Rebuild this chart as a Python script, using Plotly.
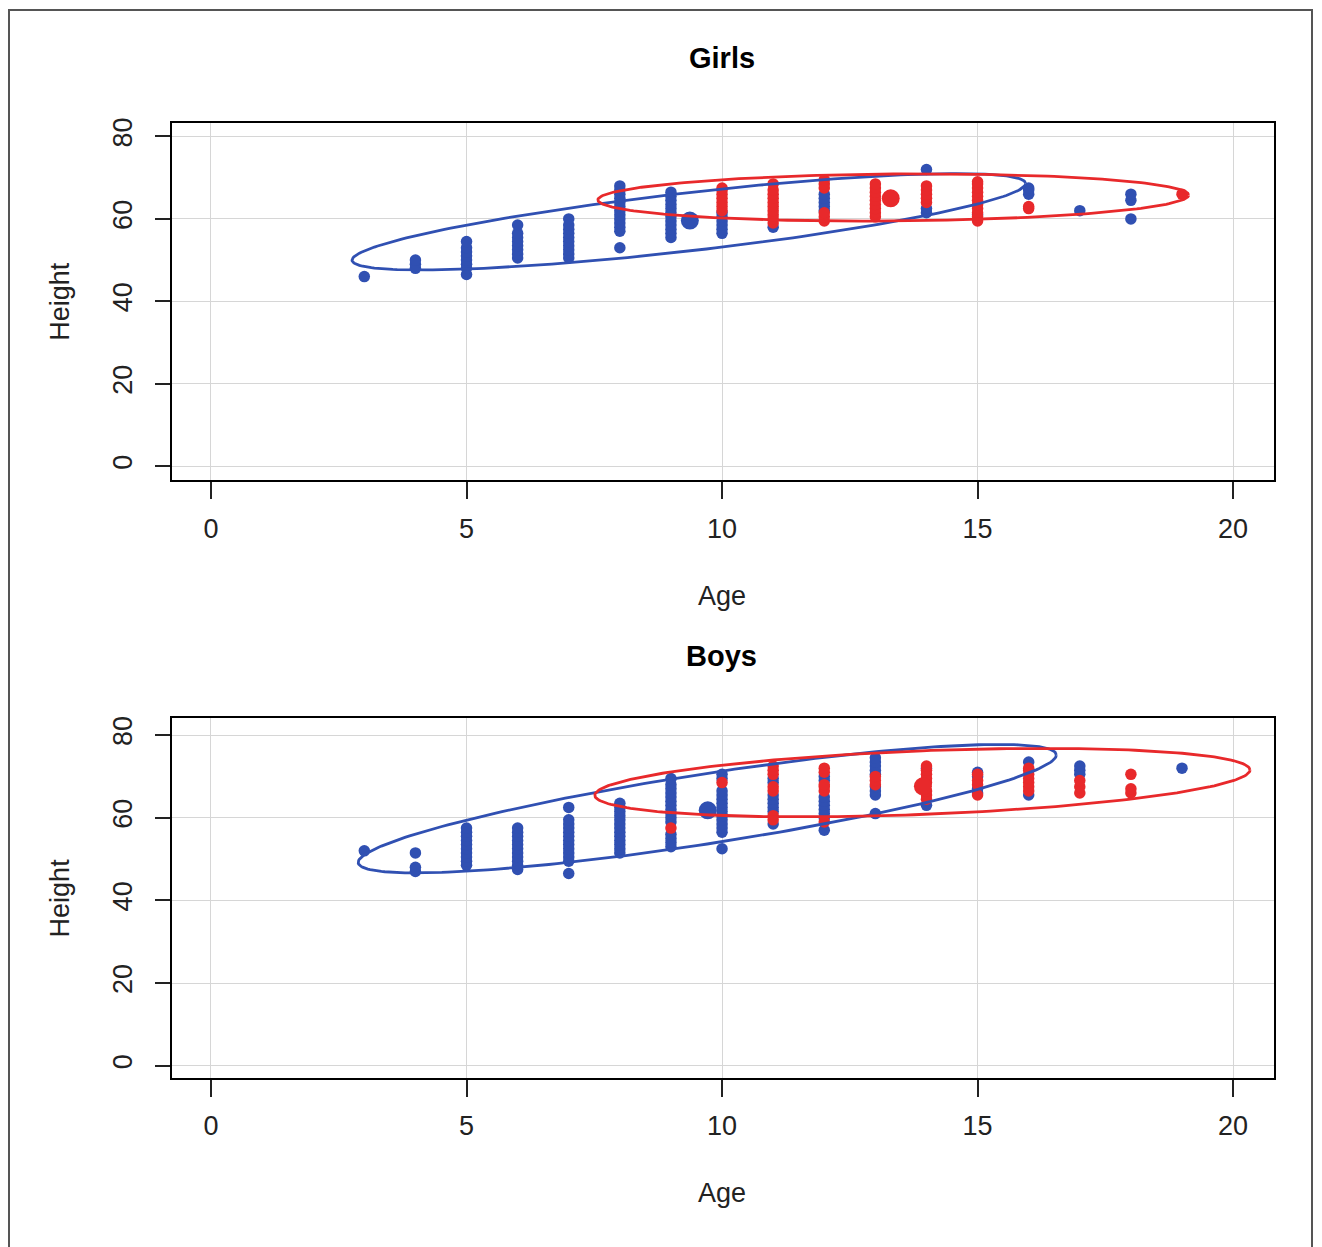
import numpy as np
import plotly.graph_objects as go

# ---------------- data ----------------
# heights per age column
girls_blue = {
    3: [46],
    4: [48, 49, 50],
    5: [46.5, 48, 49, 50, 51, 52, 53, 54.5],
    6: [50.5, 51.5, 52.5, 53.5, 54.5, 55.5, 56.5, 58.5],
    7: [50.5, 51.5, 52.5, 53.5, 54.5, 55.5, 56.5, 57.5, 58.5, 60],
    8: [53, 57, 58, 59, 60, 61, 62, 63, 64, 65, 66, 67, 68],
    9: [55.5, 56.5, 57.5, 58.5, 59.5, 60.5, 61.5, 62.5, 63.5, 64.5, 65.5, 66.5],
    10: [56.5, 57.5, 58.5, 59.5, 60.5, 61.5],
    11: [58],
    12: [62, 63, 64, 65, 66],
    14: [61.5, 62.5, 72],
    15: [61],
    16: [66, 67, 67.5],
    17: [62],
    18: [60, 64.5, 66],
}
girls_red = {
    10: [62, 63, 64, 65, 66, 67, 67.5],
    11: [59, 60, 61, 62, 63, 64, 65, 66, 67, 68.5],
    12: [59.5, 60.5, 61.5, 67.5, 68.5, 69.5],
    13: [60.5, 61.5, 62.5, 63.5, 64.5, 65.5, 66.5, 67.5, 68.5],
    14: [64, 65, 66, 67, 68],
    15: [59.5, 60.5, 61.5, 62.5, 63.5, 64.5, 65.5, 66.5, 67.5, 68.5, 69],
    16: [62.5, 63],
    19: [66],
}
boys_blue = {
    3: [52],
    4: [47, 48, 51.5],
    5: [48.5, 49.5, 50.5, 51.5, 52.5, 53.5, 54.5, 55.5, 56.5, 57.5],
    6: [47.5, 48.5, 49.5, 50.5, 51.5, 52.5, 53.5, 54.5, 55.5, 56.5, 57.5],
    7: [46.5, 49.5, 50.5, 51.5, 52.5, 53.5, 54.5, 55.5, 56.5, 57.5, 58.5, 59.5, 62.5],
    8: [51.5, 52.5, 53.5, 54.5, 55.5, 56.5, 57.5, 58.5, 59.5, 60.5, 61.5, 62.5, 63.5],
    9: [53, 54, 55, 56, 59, 60, 61, 62, 63, 64, 65, 66, 67, 68, 69.5],
    10: [52.5, 56.5, 57.5, 58.5, 59.5, 60.5, 61.5, 62.5, 63.5, 64.5, 65.5, 66.5, 69.5, 70.5],
    11: [58.5, 61.5, 62.5, 63.5, 64.5, 65.5, 68.5, 69.5],
    12: [57, 60, 61, 62, 63, 64, 65, 69, 70],
    13: [61, 65.5, 66.5, 67.5, 70.5, 71.5, 72.5, 73.5, 74.5],
    14: [63, 72],
    15: [66, 67, 70, 71],
    16: [65.5, 73.5],
    17: [70.5, 71.5, 72.5],
    19: [72],
}
boys_red = {
    9: [57.5],
    10: [68.5],
    11: [59.5, 60.5, 66.5, 67.5, 70.5, 71.5, 72.5],
    12: [59, 66.5, 67.5, 68, 71, 72],
    13: [68, 69, 70],
    14: [64.5, 65.5, 66.5, 68.5, 69.5, 70.5, 71.5, 72.5],
    15: [65.5, 68, 69, 70.5],
    16: [66.5, 67.5, 68.5, 69.5, 70.5, 71.5, 72],
    17: [66, 67.5, 69],
    18: [66, 67, 70.5],
}

# group means (large dots)
mean_age = {"girls_blue": 9.37, "girls_red": 13.3, "boys_blue": 9.72, "boys_red": 13.93}
mean_height = {"girls_blue": 59.6, "girls_red": 65.0, "boys_blue": 61.8, "boys_red": 67.6}

# ellipse parameters: centre, half-extent in x, slope of conjugate diameter, half-thickness at centre
ell_cx = {"girls_blue": 9.35, "girls_red": 13.35, "boys_blue": 9.71, "boys_red": 13.92}
ell_cy = {"girls_blue": 59.3, "girls_red": 65.2, "boys_blue": 62.2, "boys_red": 68.5}
ell_a = {"girls_blue": 6.59, "girls_red": 5.78, "boys_blue": 6.83, "boys_red": 6.41}
ell_b = {"girls_blue": 1.41, "girls_red": 0.10, "boys_blue": 1.90, "boys_red": 0.476}
ell_h = {"girls_blue": 7.1, "girls_red": 5.7, "boys_blue": 8.55, "boys_red": 7.7}

x_ticks = [0, 5, 10, 15, 20]
y_ticks = [0, 20, 40, 60, 80]
panel_titles = ["Girls", "Boys"]

BLUE = "#3050B2"
RED = "#E8292B"
OFFX, OFFY = 8, 12          # page offsets
W, H = 1322 - 2 * OFFX, 1247 - 8


def px(x):
    return (x - OFFX) / W


def py(y):
    return 1 - (y - OFFY) / H


def flatten(d):
    xs, ys = [], []
    for k, vals in d.items():
        for v in vals:
            xs.append(k)
            ys.append(v)
    return xs, ys


def ellipse(key):
    t = np.linspace(0, 2 * np.pi, 241)
    x = ell_cx[key] + ell_a[key] * np.cos(t)
    y = ell_cy[key] + ell_b[key] * ell_a[key] * np.cos(t) + ell_h[key] * np.sin(t)
    return x, y


fig = go.Figure()

panels = [
    ("girls", "x", "y", girls_blue, girls_red),
    ("boys", "x2", "y2", boys_blue, boys_red),
]
for name, xa, ya, blue_d, red_d in panels:
    for col, d in [(BLUE, blue_d), (RED, red_d)]:
        xs, ys = flatten(d)
        fig.add_trace(go.Scatter(x=xs, y=ys, mode="markers", xaxis=xa, yaxis=ya,
                                 marker=dict(color=col, size=11.5, line=dict(width=0)),
                                 showlegend=False, hoverinfo="skip"))
    for col, grp in [(BLUE, "blue"), (RED, "red")]:
        key = f"{name}_{grp}"
        fig.add_trace(go.Scatter(x=[mean_age[key]], y=[mean_height[key]], mode="markers",
                                 xaxis=xa, yaxis=ya,
                                 marker=dict(color=col, size=18, line=dict(width=0)),
                                 showlegend=False, hoverinfo="skip"))
        ex, ey = ellipse(key)
        fig.add_trace(go.Scatter(x=ex, y=ey, mode="lines", xaxis=xa, yaxis=ya,
                                 line=dict(color=col, width=2.8),
                                 showlegend=False, hoverinfo="skip"))

FONT = "Liberation Sans, Arial, sans-serif"
xdom = [px(172), px(1274)]


def xaxis_cfg():
    return dict(domain=xdom, range=[-0.763, 20.80], tickvals=x_ticks,
                showgrid=True, gridcolor="#d6d6d6", gridwidth=1, zeroline=False,
                showline=True, mirror=True, linecolor="black", linewidth=2,
                ticks="outside", ticklen=17, tickwidth=2, tickcolor="#222",
                ticklabelstandoff=6,
                tickfont=dict(family=FONT, size=27, color="#222"))


def yaxis_cfg(dom, rng):
    return dict(domain=dom, range=rng, tickvals=y_ticks, tickangle=-90,
                showgrid=True, gridcolor="#d6d6d6", gridwidth=1, zeroline=False,
                showline=True, mirror=True, linecolor="black", linewidth=2,
                ticks="outside", ticklen=15, tickwidth=2, tickcolor="#222",
                ticklabelstandoff=12,
                tickfont=dict(family=FONT, size=27, color="#222"))


fig.update_layout(
    width=W, height=H,
    margin=dict(l=0, r=0, t=0, b=0),
    paper_bgcolor="white", plot_bgcolor="white",
    xaxis=dict(xaxis_cfg(), anchor="y"),
    yaxis=dict(yaxis_cfg([py(481), py(122)], [-3.38, 83.38]), anchor="x"),
    xaxis2=dict(xaxis_cfg(), anchor="y2"),
    yaxis2=dict(yaxis_cfg([py(1081), py(720)], [-2.89, 84.1]), anchor="x2"),
)

annots = []
for title, yy in zip(panel_titles, [57, 658]):
    annots.append(dict(text=f"<b>{title}</b>", x=px(722), y=py(yy), xref="paper", yref="paper",
                       showarrow=False, xanchor="center", yanchor="middle",
                       font=dict(family=FONT, size=29, color="black")))
for yy in [597, 1197]:
    annots.append(dict(text="Age", x=px(722), y=py(yy), xref="paper", yref="paper",
                       showarrow=False, xanchor="center", yanchor="middle",
                       font=dict(family=FONT, size=27, color="#222")))
for yy in [302, 901]:
    annots.append(dict(text="Height", x=px(60), y=py(yy), xref="paper", yref="paper",
                       showarrow=False, xanchor="center", yanchor="middle", textangle=-90,
                       font=dict(family=FONT, size=27, color="#222")))
fig.update_layout(annotations=annots)

fig.add_shape(type="rect", xref="paper", yref="paper",
              x0=px(9), x1=px(1312), y0=-0.02, y1=py(9),
              line=dict(color="#555", width=2), fillcolor="rgba(0,0,0,0)", layer="below")

fig.write_html("out.html")
